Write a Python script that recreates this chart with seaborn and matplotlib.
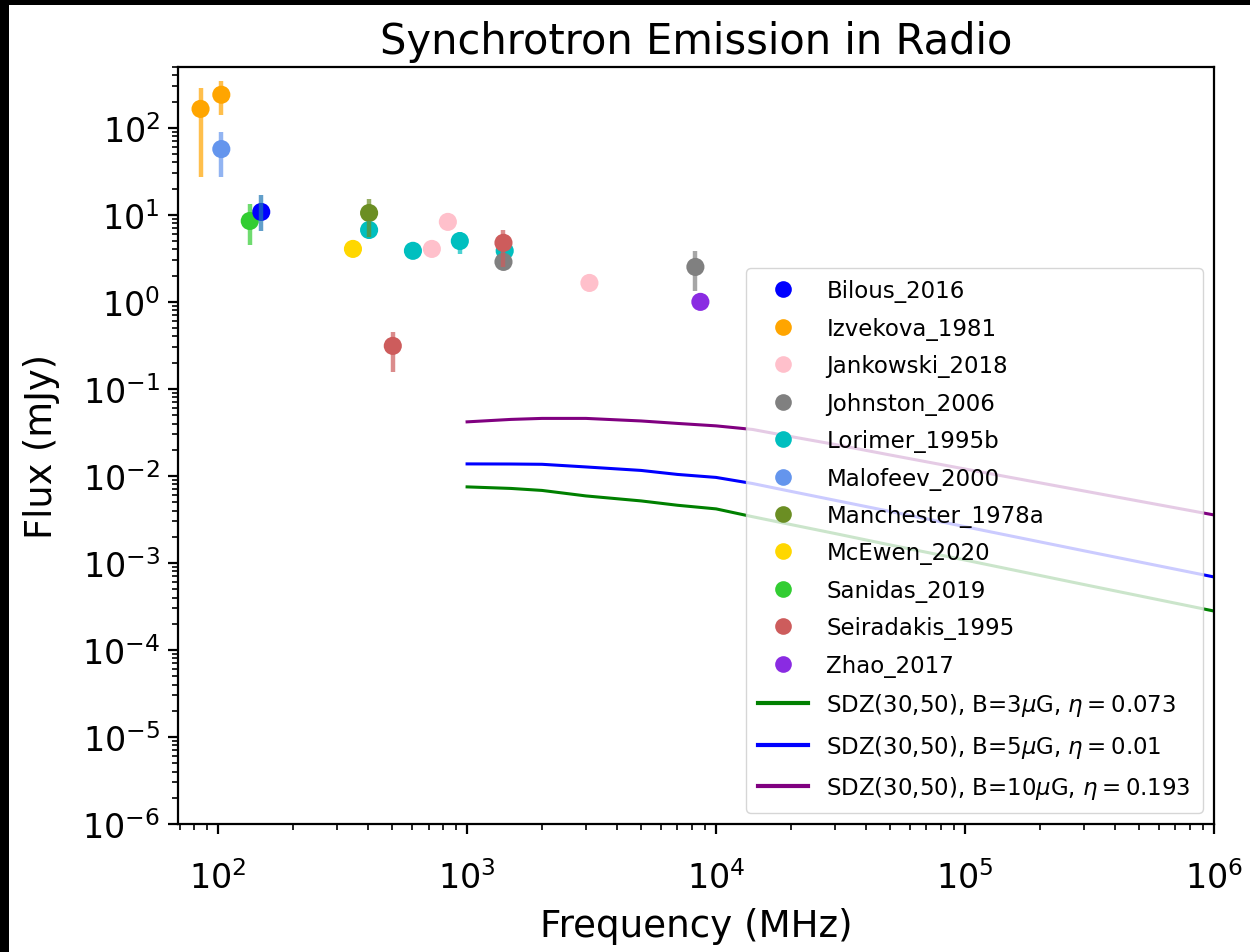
import numpy as np
import pandas as pd
import matplotlib
matplotlib.use("Agg")
import matplotlib.pyplot as plt
from matplotlib.patches import Rectangle
from matplotlib.lines import Line2D
import seaborn as sns

# ---------------- data ----------------
datasets = ["Bilous_2016", "Izvekova_1981", "Jankowski_2018", "Johnston_2006",
            "Lorimer_1995b", "Malofeev_2000", "Manchester_1978a", "McEwen_2020",
            "Sanidas_2019", "Seiradakis_1995", "Zhao_2017"]
dataset_colors = ["blue", "orange", "pink", "gray", "c", "cornflowerblue",
                  "olivedrab", "gold", "limegreen", "indianred", "blueviolet"]
errbar_colors = ["tab:blue", "orange", "pink", "gray", "c", "cornflowerblue",
                 "olivedrab", "gold", "limegreen", "indianred", "blueviolet"]

point_set = ["Izvekova_1981", "Izvekova_1981", "Malofeev_2000", "Sanidas_2019",
             "Bilous_2016", "McEwen_2020", "Manchester_1978a", "Lorimer_1995b",
             "Lorimer_1995b", "Lorimer_1995b", "Lorimer_1995b", "Jankowski_2018",
             "Jankowski_2018", "Jankowski_2018", "Seiradakis_1995", "Seiradakis_1995",
             "Johnston_2006", "Johnston_2006", "Zhao_2017"]
point_freq = [85, 103, 103, 134, 149, 348, 404, 404, 606, 935, 1416, 722, 837,
              3100, 503, 1400, 1400, 8260, 8650]
point_flux = [165, 240, 57, 8.5, 10.8, 4.06, 10.5, 6.7, 3.86, 5.0, 3.86, 4.06, 8.3,
              1.65, 0.312, 4.77, 2.88, 2.52, 1.0]
point_lo = [27, 141, 27, 4.5, 6.5, np.nan, 5.6, np.nan, np.nan, 3.56, np.nan, np.nan,
            np.nan, np.nan, 0.157, 2.5, np.nan, 1.34, np.nan]
point_hi = [288, 347, 90, 13.4, 17, np.nan, 15.3, np.nan, np.nan, 6.4, np.nan, np.nan,
            9.6, np.nan, 0.45, 6.7, np.nan, 3.86, np.nan]

model_freq = [1e3, 1.5e3, 2e3, 3e3, 5e3, 7e3, 1e4, 1.4e4, 2e4, 3e4, 5e4, 1e5, 3e5, 1e6]
model_b3 = [0.00748, 0.00718, 0.00681, 0.00589, 0.00516, 0.00460, 0.00418, 0.00340,
            0.00276, 0.00218, 0.00161, 0.00108, 0.000565, 0.00028]
model_b5 = [0.01374, 0.0137, 0.0136, 0.01268, 0.01156, 0.0104, 0.00961, 0.00818,
            0.00664, 0.00525, 0.00391, 0.00261, 0.00138, 0.00069]
model_b10 = [0.0418, 0.0446, 0.0458, 0.0458, 0.0428, 0.0401, 0.0376, 0.0342,
             0.0283, 0.0230, 0.0174, 0.0120, 0.00672, 0.00356]
model_labels = [r"SDZ(30,50), B=3$\mu$G, $\eta=0.073$",
                r"SDZ(30,50), B=5$\mu$G, $\eta=0.01$",
                r"SDZ(30,50), B=10$\mu$G, $\eta=0.193$"]
model_colors = ["green", "blue", "purple"]

# ---------------- figure ----------------
W, H = 1250, 953
fig = plt.figure(figsize=(W / 100, H / 100), dpi=100)
fig.patch.set_facecolor("black")
fig.add_artist(Rectangle((9 / W, 0), 1 - 9 / W, 1 - 6 / H, transform=fig.transFigure,
                         facecolor="white", edgecolor="none", zorder=-10))
ax = fig.add_axes([178 / W, 1 - 825 / H, (1214 - 178) / W, (825 - 68) / H])

pts = pd.DataFrame({"dataset": point_set, "freq": point_freq, "flux": point_flux,
                    "lo": point_lo, "hi": point_hi})
palette = dict(zip(datasets, dataset_colors))
ebc = dict(zip(datasets, errbar_colors))

sns.scatterplot(data=pts, x="freq", y="flux", hue="dataset", hue_order=datasets,
                palette=palette, s=170, linewidth=0, ax=ax, legend=False, zorder=2)

for _, r in pts.iterrows():
    if not np.isnan(r["lo"]) or not np.isnan(r["hi"]):
        lo = r["flux"] if np.isnan(r["lo"]) else r["lo"]
        hi = r["flux"] if np.isnan(r["hi"]) else r["hi"]
        ax.errorbar([r["freq"]], [r["flux"]],
                    yerr=[[r["flux"] - lo], [hi - r["flux"]]],
                    fmt="none", ecolor=ebc[r["dataset"]], elinewidth=3.2,
                    alpha=0.7, capsize=0, zorder=3)

models = pd.DataFrame({
    "freq": model_freq * 3,
    "flux": model_b3 + model_b5 + model_b10,
    "model": [model_labels[0]] * len(model_freq) + [model_labels[1]] * len(model_freq)
             + [model_labels[2]] * len(model_freq),
})
sns.lineplot(data=models, x="freq", y="flux", hue="model", hue_order=model_labels,
             palette=dict(zip(model_labels, model_colors)), linewidth=2.2,
             ax=ax, legend=False, zorder=2)

ax.set_xscale("log")
ax.set_yscale("log")
ax.set_xlim(69, 1e6)
ax.set_ylim(1e-6, 500)
ax.yaxis.set_major_locator(matplotlib.ticker.LogLocator(base=10, numticks=20))
ax.yaxis.set_minor_locator(matplotlib.ticker.LogLocator(base=10, subs=np.arange(2, 10), numticks=20))
ax.yaxis.set_minor_formatter(matplotlib.ticker.NullFormatter())

ax.set_title("Synchrotron Emission in Radio", fontsize=30, pad=10)
ax.set_xlabel("Frequency (MHz)", fontsize=26.8, labelpad=9)
ax.set_ylabel("Flux (mJy)", fontsize=26.5, labelpad=16)
ax.tick_params(axis="both", which="major", labelsize=24, length=7, width=1.6)
ax.tick_params(axis="x", which="major", pad=19)
ax.tick_params(axis="y", which="major", pad=6)
ax.tick_params(axis="both", which="minor", length=4, width=1.2)
for sp in ax.spines.values():
    sp.set_linewidth(1.6)

handles = [Line2D([], [], linestyle="none", marker="o", markersize=12,
                  markerfacecolor=c, markeredgecolor="none") for c in dataset_colors]
handles += [Line2D([], [], color=c, linewidth=3) for c in model_colors]
labels = datasets + model_labels
ax.legend(handles, labels, loc="lower right", fontsize=16.5, framealpha=0.8,
          labelspacing=0.63, handlelength=2.2, borderpad=0.5)

fig.savefig("out.png", dpi=100, facecolor=fig.get_facecolor())
